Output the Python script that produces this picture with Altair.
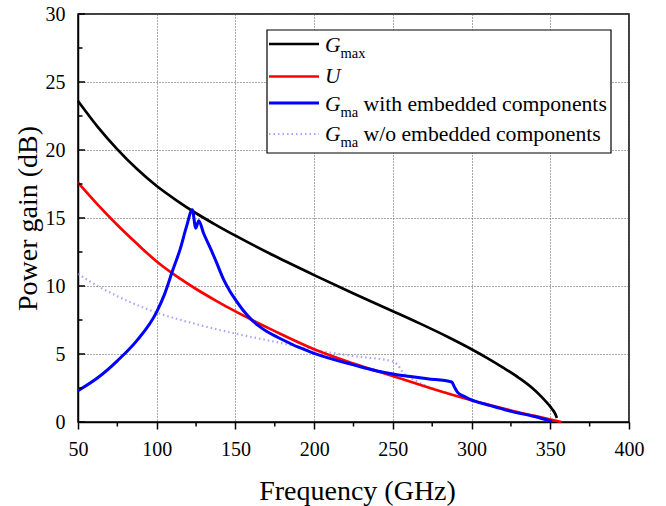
import altair as alt
import pandas as pd

# ---------------- data ----------------
gmax_f = [50, 62.5, 75, 87.5, 100, 112.5, 125, 137.5, 150, 175, 200, 225, 250, 267, 285, 300, 310, 320, 330, 338, 344, 348, 351, 353, 354.2]
gmax_g = [23.6, 21.7, 20.05, 18.6, 17.35, 16.3, 15.35, 14.5, 13.7, 12.2, 10.8, 9.45, 8.15, 7.25, 6.25, 5.35, 4.7, 4.0, 3.25, 2.55, 1.9, 1.4, 0.98, 0.63, 0.3]

u_f = [50, 62.5, 75, 87.5, 100, 112.5, 125, 137.5, 150, 175, 200, 225, 250, 275, 300, 325, 340, 357]
u_g = [17.6, 15.98, 14.48, 13.1, 11.8, 10.72, 9.78, 8.93, 8.13, 6.68, 5.35, 4.3, 3.38, 2.45, 1.6, 0.85, 0.45, 0.0]

gma_f = [50, 62.5, 75, 87.5, 100, 105, 110, 115, 119, 122.6, 124.8, 126.7, 129.7, 134, 138.1, 142, 146.6,
         150, 155, 160, 165, 170, 180, 190, 200, 225, 240, 250, 260, 272, 287.4, 289, 291, 295, 299, 312, 324.4, 340, 351]
gma_g = [2.3, 3.25, 4.5, 6.0, 8.1, 9.4, 11.1, 12.75, 14.4, 15.6, 14.25, 14.8, 13.9, 12.8, 11.7, 10.6, 9.6,
         9.0, 8.2, 7.55, 7.05, 6.65, 6.05, 5.5, 5.05, 4.2, 3.75, 3.53, 3.36, 3.18, 2.94, 2.6, 2.2, 1.9, 1.67, 1.2, 0.8, 0.4, 0.05]

wo_f = [50, 62.5, 75, 87.5, 100, 125, 150, 175, 200, 225, 250, 253, 256, 265, 280, 300, 325, 350]
wo_g = [10.9, 10.0, 9.25, 8.6, 8.05, 7.2, 6.5, 5.9, 5.3, 4.85, 4.45, 4.2, 3.7, 3.0, 2.3, 1.65, 0.85, 0.1]

x_ticks = [50, 100, 150, 200, 250, 300, 350, 400]
x_minor = [75, 125, 175, 225, 275, 325, 375]
y_ticks = [0, 5, 10, 15, 20, 25, 30]
y_minor = [2.5, 7.5, 12.5, 17.5, 22.5, 27.5]

# ---------------- layout ----------------
W, H = 551, 408
FONT = "Liberation Serif"
xs = alt.Scale(domain=[50, 400], nice=False, zero=False)
ys = alt.Scale(domain=[0, 30], nice=False, zero=False)

x_axis = alt.Axis(values=x_ticks, title="Frequency (GHz)", titleFont=FONT, titleFontSize=28,
                  titleFontWeight="normal", titleColor="black", titleX=279, titleY=77,
                  titleBaseline="alphabetic", titleAlign="center",
                  labelFont=FONT, labelFontSize=20, labelColor="black", labelBaseline="alphabetic",
                  labelPadding=26, labelFlush=False, labelOverlap=False,
                  tickSize=7, tickWidth=1.5, tickColor="black",
                  domainColor="black", domainWidth=1.5,
                  grid=True, gridDash=[1, 2], gridColor="#555", gridWidth=1)
y_axis = alt.Axis(values=y_ticks, title="Power gain (dB)", titleFont=FONT, titleFontSize=28,
                  titleFontWeight="normal", titleColor="black", titleAngle=270, titleX=-42, titleY=204,
                  titleBaseline="alphabetic", titleAlign="center",
                  labelFont=FONT, labelFontSize=20, labelColor="black", labelPadding=13,
                  labelFlush=False, labelOverlap=False, ticks=False,
                  domainColor="black", domainWidth=1.5,
                  grid=True, gridDash=[1, 2], gridColor="#555", gridWidth=1)


def X(field):
    return alt.X(field, scale=xs, axis=x_axis)


def Y(field):
    return alt.Y(field, scale=ys, axis=y_axis)


def series(f, g, color, width, dash=None, opacity=1.0):
    df = pd.DataFrame({"f": f, "g": g})
    kw = dict(color=color, strokeWidth=width, interpolate="monotone", opacity=opacity)
    if dash:
        kw["strokeDash"] = dash
    return alt.Chart(df).mark_line(**kw).encode(x=X("f:Q"), y=Y("g:Q"))


wo = series(wo_f, wo_g, "#8080ff", 2.2, dash=[1.5, 3], opacity=0.7)
gmax = series(gmax_f, gmax_g, "black", 2.7)
u = series(u_f, u_g, "#ff0000", 2.7)
gma = series(gma_f, gma_g, "#0000ff", 3)

# minor ticks on x (outward) and inward ticks on y
xminor = alt.Chart(pd.DataFrame({"f": x_minor})).mark_rule(color="black", strokeWidth=1.5).encode(
    x=X("f:Q"), y=alt.value(H), y2=alt.value(H + 4.5))
yminor = alt.Chart(pd.DataFrame({"g": y_minor})).mark_rule(color="black", strokeWidth=1.5).encode(
    y=Y("g:Q"), x=alt.value(0), x2=alt.value(4.5))
ymajor = alt.Chart(pd.DataFrame({"g": y_ticks})).mark_rule(color="black", strokeWidth=1.5).encode(
    y=Y("g:Q"), x=alt.value(0), x2=alt.value(7))

# ---------------- legend (annotation) ----------------
box = alt.Chart(pd.DataFrame({"a": [0]})).mark_rect(fill="white", stroke="black", strokeWidth=1.2).encode(
    x=alt.value(189), x2=alt.value(533), y=alt.value(16), y2=alt.value(139))

leg_rows = [("black", 30, 2.7, None), ("#ff0000", 62.5, 2.7, None),
            ("#0000ff", 89, 3, None), ("#8080ff", 120, 2.2, [1.5, 3])]
leg_marks = []
for c, yy, w, dash in leg_rows:
    kw = dict(color=c, strokeWidth=w)
    if dash:
        kw["strokeDash"] = dash
        kw["opacity"] = 0.7
    leg_marks.append(
        alt.Chart(pd.DataFrame({"a": [0]})).mark_rule(**kw).encode(
            x=alt.value(191), x2=alt.value(241), y=alt.value(yy)))


def texts(items, **style):
    out = []
    for t, xx, yy in items:
        out.append(alt.Chart(pd.DataFrame({"a": [0]})).mark_text(
            text=t, font=FONT, align="left", baseline="alphabetic", color="black", **style
        ).encode(x=alt.value(xx), y=alt.value(yy)))
    return out


t_main = texts([("G", 247, 37.5), ("U", 247, 69), ("G", 247, 97), ("G", 247, 127)],
               fontSize=21.5, fontStyle="italic")
t_sub = texts([("max", 262.5, 43.5), ("ma", 262.5, 103), ("ma", 262.5, 133)], fontSize=14.5)
t_txt = texts([("with embedded components", 285.5, 97), ("w/o embedded components", 285.5, 127)],
              fontSize=21.7)

chart = alt.layer(
    wo, gmax, u, gma, xminor, yminor, ymajor,
    box, *leg_marks, *t_main, *t_sub, *t_txt,
).properties(
    width=W, height=H,
    autosize=alt.AutoSizeParams(type="none"),
    padding={"left": 78, "top": 14, "right": 37, "bottom": 84},
    background="white",
).configure_view(stroke="black", strokeWidth=1.5)

chart.save("out.html", embed_options={"renderer": "svg", "actions": False})
